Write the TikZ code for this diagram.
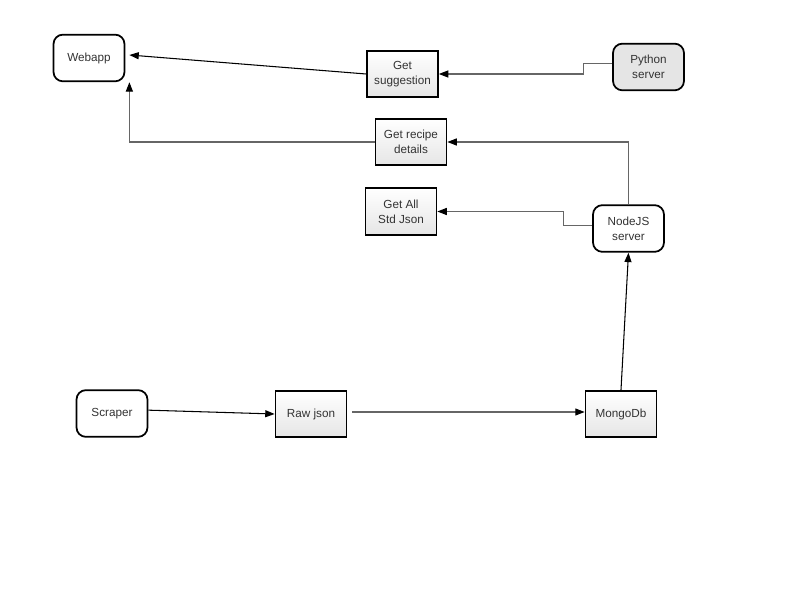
\documentclass[tikz,border=0pt]{standalone}
\usepackage{fontspec}
\setmainfont{Liberation Sans}
\usetikzlibrary{arrows.meta}

\tikzset{
  box/.style={draw=black, line width=1.5pt, minimum width=2.13cm, minimum height=1.4cm,
    align=center, text=black!80, inner sep=1pt, font=\fontsize{10}{13}\selectfont},
  rectbox/.style={box, top color=white, bottom color=black!10},
  roundbox/.style={box, rounded corners=8pt, fill=white},
  link/.style={draw=black!60, line width=0.9pt, -{Triangle[length=8pt,width=6pt,color=black]}},
  plainlink/.style={link, draw=black}
}

\begin{document}
\begin{tikzpicture}[x=0.03cm, y=-0.03cm]
  \useasboundingbox (0,0) rectangle (800,600);

  % services and calls
  \node[roundbox] (webapp) at (89,58) {Webapp};
  \node[rectbox] (getsugg) at (402.5,74) {Get\\suggestion};
  \node[roundbox, fill=black!10] (python) at (648.5,67) {Python\\server};
  \node[rectbox] (getrecipe) at (411,142) {Get recipe\\details};
  \node[rectbox] (getall) at (401,211.5) {Get All\\Std Json};
  \node[roundbox] (nodejs) at (628.5,228.5) {NodeJS\\server};

  % data pipeline
  \node[roundbox] (scraper) at (112,413.5) {Scraper};
  \node[rectbox] (rawjson) at (311,414) {Raw json};
  \node[rectbox] (mongodb) at (621,414) {MongoDb};

  % connectors
  \draw[link] ([yshift=1mm]python.west) -- ++(-29,0) |- (getsugg.east);
  \draw[plainlink] (getsugg.west) -- ([xshift=1.2mm,yshift=0.9mm]webapp.east);
  \draw[link] (nodejs.north) |- (getrecipe.east);
  \draw[link] (getrecipe.west) -| ([xshift=1.2mm]webapp.south east);
  \draw[link] ([yshift=0.8mm]nodejs.west) -- ++(-29,0) |- (getall.east);
  \draw[plainlink] (mongodb.north) -- (nodejs.south);
  \draw[plainlink] ([yshift=1mm]scraper.east) -- (rawjson.west);
  \draw[link, shorten <=1.5mm] ([yshift=0.6mm]rawjson.east) -- ([yshift=0.6mm]mongodb.west);
\end{tikzpicture}
\end{document}
